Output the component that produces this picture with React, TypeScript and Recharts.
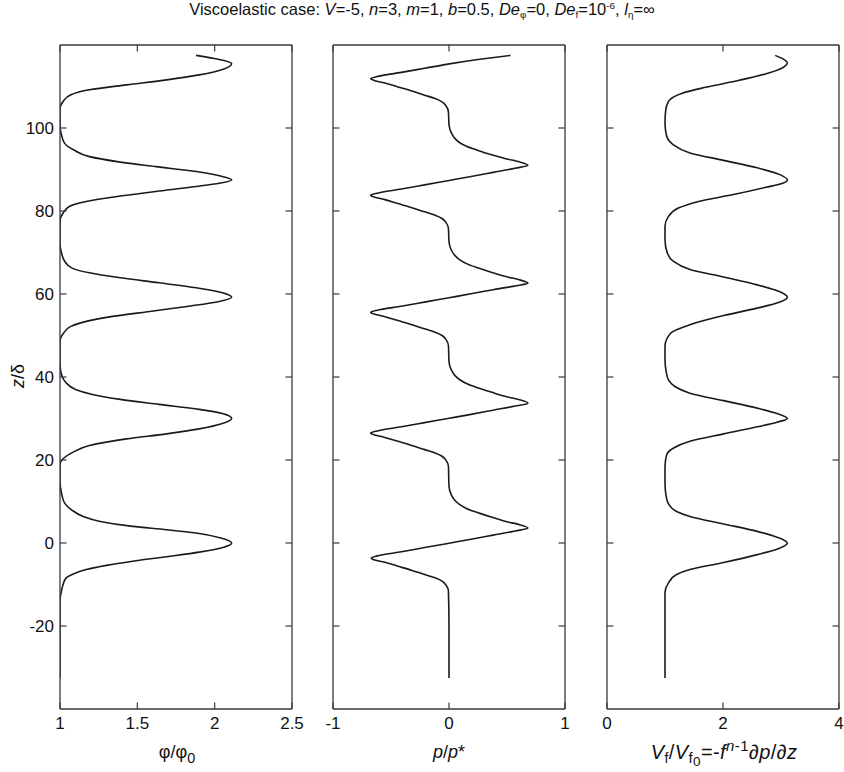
import React from 'react';
import { LineChart, Line, XAxis, YAxis } from 'recharts';

// shared vertical axis (z/δ)
const zDomain = [-40, 120];
const zTicks = [-20, 0, 20, 40, 60, 80, 100];

// panel 1: φ/φ0
const phiTicks = [1, 1.5, 2, 2.5];
const phiZ = [
  -32.5, -20, -14, -11.5, -10, -8.4, -7.4, -6.4, -5.4, -4.4, -3.3, -2.2, -1, 0, 1.2, 2.4, 3.2, 4, 5.2, 6.4, 8, 9.6, 12, 15,
  19, 20.3, 21.9, 23.5, 25.1, 26.3, 27.5, 28.8, 30, 31.2, 32.2, 33.4, 34.6, 35.8, 37, 38.6, 40, 43,
  48.5, 50.6, 52.2, 53.4, 54.6, 55.8, 57, 58.2, 59.2, 60.3, 61.5, 62.7, 63.9, 65.1, 66.3, 67.9, 69.9, 72,
  77.5, 79.5, 81.1, 82.3, 83.5, 84.7, 85.9, 86.7, 87.5, 88.3, 89.5, 90.7, 91.9, 93.1, 94.7, 96.3, 98.3, 100.5,
  104.5, 106.4, 108, 109.2, 110.4, 111.6, 112.8, 114, 115.5, 116.5, 117.5,
];
const phiVals = [
  1, 1, 1, 1.01, 1.02, 1.04, 1.09, 1.17, 1.3, 1.47, 1.69, 1.9, 2.06, 2.11, 2.04, 1.88, 1.69, 1.47, 1.26, 1.15, 1.075, 1.03, 1.01, 1,
  1, 1.02, 1.085, 1.19, 1.43, 1.69, 1.9, 2.05, 2.11, 2.05, 1.9, 1.64, 1.39, 1.21, 1.1, 1.04, 1.015, 1,
  1, 1.024, 1.07, 1.17, 1.34, 1.58, 1.82, 2.03, 2.11, 2.05, 1.88, 1.64, 1.39, 1.19, 1.075, 1.03, 1.01, 1,
  1, 1.02, 1.06, 1.17, 1.37, 1.62, 1.88, 2.03, 2.11, 2.05, 1.88, 1.62, 1.37, 1.19, 1.09, 1.03, 1.01, 1,
  1, 1.02, 1.07, 1.19, 1.43, 1.69, 1.9, 2.04, 2.11, 2.03, 1.88,
];

// panel 2: p/p*
const pTicks = [-1, 0, 1];
const pZ = [
  -32.5, -20, -11.6, -10.2, -9.2, -8.4, -7.6, -6.6, -5.6, -4.6, -4.1, -3.6, -3.1, -2.1, -1.1, -0.1, 0.9, 1.9, 2.9, 3.6,
  4.4, 5.2, 6.2, 7.2, 8.2, 9.3, 10.3, 11.6, 13.6,
  18.5, 19.9, 20.9, 21.7, 22.5, 23.5, 24.5, 25.5, 26, 26.5, 27, 28, 29, 30, 31, 32, 33, 33.7,
  34.5, 35.3, 36.3, 37.3, 38.3, 39.4, 40.4, 41.7, 43.7,
  47.6, 49, 50, 50.8, 51.6, 52.6, 53.6, 54.6, 55.1, 55.6, 56.1, 57.1, 58.1, 59.1, 60.1, 61.1, 62, 62.6,
  63.4, 64.2, 65.2, 66.2, 67.2, 68.3, 69.3, 70.6, 72.6,
  75.8, 77.2, 78.2, 79, 79.8, 80.8, 81.8, 82.8, 83.3, 83.8, 84.3, 85.3, 86.3, 87.3, 88.3, 89.3, 90.3, 91,
  91.8, 92.6, 93.6, 94.6, 95.6, 96.5, 97.5, 98.8, 100.8,
  103.9, 105.3, 106.3, 107.1, 107.9, 108.9, 109.9, 110.9, 111.4, 111.9, 112.4, 113.4, 114.4, 115.4, 116.5, 117.5,
];
const pVals = [
  0, 0, -0.005, -0.025, -0.06, -0.12, -0.21, -0.32, -0.44, -0.56, -0.64, -0.67, -0.62, -0.41, -0.21, -0.01, 0.19, 0.38, 0.57, 0.68,
  0.61, 0.49, 0.37, 0.26, 0.16, 0.09, 0.05, 0.02, 0,
  -0.005, -0.025, -0.06, -0.12, -0.21, -0.32, -0.44, -0.56, -0.64, -0.675, -0.62, -0.41, -0.21, -0.01, 0.19, 0.38, 0.57, 0.68,
  0.61, 0.49, 0.37, 0.26, 0.16, 0.09, 0.05, 0.02, 0,
  -0.005, -0.025, -0.06, -0.12, -0.21, -0.32, -0.44, -0.56, -0.64, -0.675, -0.62, -0.4, -0.2, 0, 0.2, 0.39, 0.58, 0.68,
  0.61, 0.49, 0.37, 0.26, 0.16, 0.09, 0.05, 0.02, 0,
  -0.005, -0.025, -0.06, -0.12, -0.21, -0.32, -0.44, -0.56, -0.64, -0.675, -0.62, -0.41, -0.21, -0.01, 0.19, 0.38, 0.57, 0.68,
  0.61, 0.49, 0.36, 0.25, 0.15, 0.09, 0.05, 0.02, 0,
  -0.005, -0.025, -0.06, -0.12, -0.21, -0.32, -0.44, -0.56, -0.64, -0.675, -0.62, -0.41, -0.21, -0.01, 0.25, 0.53,
];

// panel 3: Vf/Vf0
const vfTicks = [0, 2, 4];
const vfZ = [
  -32.5, -20, -12, -9.6, -7.6, -6.4, -4.7, -2.8, -1.5, 0, 1.4, 2.8, 4.6, 6.4, 7.6, 9.2, 11.2, 14.5,
  18.5, 21.3, 22.9, 24.5, 26.3, 28, 29.1, 30, 31.2, 32.5, 34.3, 36.1, 37.7, 39.3, 41.3, 44.2,
  47.4, 50.6, 52.6, 54.8, 56.6, 58, 59.2, 60.6, 62.2, 64.1, 65.9, 67.9, 69.9, 73.1,
  76.3, 78.7, 80.7, 82.3, 83.9, 85.7, 86.7, 87.5, 88.7, 90.4, 92.2, 94, 96, 98, 101.2,
  104, 106.4, 108.4, 109.8, 111.5, 113.3, 114.8, 115.7, 116.6, 117.5,
];
const vfVals = [
  1, 1, 1, 1.06, 1.2, 1.43, 2.01, 2.59, 2.93, 3.11, 2.93, 2.59, 2.01, 1.43, 1.2, 1.07, 1.02, 1,
  1, 1.03, 1.15, 1.43, 2.01, 2.59, 2.93, 3.11, 2.93, 2.59, 2.01, 1.43, 1.17, 1.06, 1.02, 1,
  1, 1.1, 1.43, 2.01, 2.59, 2.97, 3.11, 2.97, 2.59, 2.01, 1.43, 1.14, 1.04, 1,
  1, 1.06, 1.23, 1.58, 2.16, 2.74, 3.03, 3.11, 2.99, 2.59, 2.01, 1.43, 1.14, 1.03, 1,
  1.01, 1.06, 1.3, 1.7, 2.28, 2.8, 3.06, 3.11, 3.04, 2.9,
];

const FONT = '"Liberation Sans", Arial, Helvetica, sans-serif';
const AXIS = '#3a3a3a';
const INK = '#111';
const TICK = 6.5;
const PLOT_W = 232;
const PLOT_H = 664;
const PLOT_TOP = 45;
const LW = 60;
const RW = 24;
const TH = 10;
const BH = 40;

const BottomTick = (props: any) => {
  const { x, y, payload } = props;
  return (
    <g>
      <line x1={x} y1={y} x2={x} y2={y - TICK} stroke={AXIS} strokeWidth={1.2} />
      <text x={x} y={y + 20} textAnchor="middle" fontSize={17} fontFamily={FONT} fill={INK}>
        {String(payload.value)}
      </text>
    </g>
  );
};

const TopTick = (props: any) => {
  const { x, y } = props;
  return <line x1={x} y1={y} x2={x} y2={y + TICK} stroke={AXIS} strokeWidth={1.2} />;
};

const makeLeftTick = (showLabel: boolean) => (props: any) => {
  const { x, y, payload } = props;
  return (
    <g>
      <line x1={x} y1={y} x2={x + TICK} y2={y} stroke={AXIS} strokeWidth={1.2} />
      {showLabel && (
        <text x={x - 6} y={y + 6} textAnchor="end" fontSize={17} fontFamily={FONT} fill={INK}>
          {String(payload.value)}
        </text>
      )}
    </g>
  );
};

const RightTick = (props: any) => {
  const { x, y } = props;
  return <line x1={x} y1={y} x2={x - TICK} y2={y} stroke={AXIS} strokeWidth={1.2} />;
};

interface PanelProps {
  plotLeft: number;
  z: number[];
  vals: number[];
  xDomain: number[];
  xTicks: number[];
  yLabels: boolean;
}

const Panel: React.FC<PanelProps> = ({ plotLeft, z, vals, xDomain, xTicks, yLabels }) => {
  const data = z.map((zz, i) => ({ z: zz, v: vals[i] }));
  const axisLine = { stroke: AXIS, strokeWidth: 1.3 };
  return (
    <div style={{ position: 'absolute', left: plotLeft - LW, top: PLOT_TOP - TH }}>
      <LineChart
        layout="vertical"
        width={LW + PLOT_W + RW}
        height={TH + PLOT_H + BH}
        data={data}
        margin={{ top: 0, right: 0, bottom: 0, left: 0 }}
      >
        <XAxis
          xAxisId="b"
          type="number"
          dataKey="v"
          orientation="bottom"
          domain={xDomain}
          ticks={xTicks}
          allowDataOverflow
          interval={0}
          height={BH}
          tickSize={0}
          tickMargin={0}
          tickLine={false}
          axisLine={axisLine}
          tick={BottomTick}
        />
        <XAxis
          xAxisId="t"
          type="number"
          dataKey="v"
          orientation="top"
          domain={xDomain}
          ticks={xTicks}
          allowDataOverflow
          interval={0}
          height={TH}
          tickSize={0}
          tickMargin={0}
          tickLine={false}
          axisLine={axisLine}
          tick={TopTick}
        />
        <YAxis
          yAxisId="l"
          type="number"
          dataKey="z"
          reversed
          domain={zDomain}
          ticks={zTicks}
          allowDataOverflow
          interval={0}
          width={LW}
          tickSize={0}
          tickMargin={0}
          tickLine={false}
          axisLine={axisLine}
          tick={makeLeftTick(yLabels)}
        />
        <YAxis
          yAxisId="r"
          type="number"
          dataKey="z"
          orientation="right"
          reversed
          domain={zDomain}
          ticks={zTicks}
          allowDataOverflow
          interval={0}
          width={RW}
          tickSize={0}
          tickMargin={0}
          tickLine={false}
          axisLine={axisLine}
          tick={RightTick}
        />
        <Line
          xAxisId="b"
          yAxisId="l"
          dataKey="v"
          type="monotone"
          stroke="#1a1a1a"
          strokeWidth={1.6}
          dot={false}
          activeDot={false}
          isAnimationActive={false}
        />
      </LineChart>
    </div>
  );
};

const sub = (t: React.ReactNode, size = '0.62em', drop = 4) => (
  <span style={{ fontSize: size, position: 'relative', top: drop }}>{t}</span>
);
const sup = (t: React.ReactNode, size = '0.62em', lift = -7) => (
  <span style={{ fontSize: size, position: 'relative', top: lift }}>{t}</span>
);

const labelStyle = (cx: number, top: number, size = 17): React.CSSProperties => ({
  position: 'absolute',
  left: cx - 150,
  top,
  width: 300,
  textAlign: 'center',
  fontSize: size,
  lineHeight: '20px',
  fontFamily: FONT,
  color: INK,
  whiteSpace: 'nowrap',
});

export default function App() {
  return (
    <div
      style={{
        position: 'absolute',
        left: 0,
        top: 0,
        width: 844,
        height: 772,
        background: '#fff',
        overflow: 'hidden',
        fontFamily: FONT,
      }}
    >
      <div
        style={{
          position: 'absolute',
          left: 0,
          top: 0,
          width: 844,
          textAlign: 'center',
          fontSize: 16.5,
          lineHeight: '18px',
          color: INK,
          whiteSpace: 'nowrap',
        }}
      >
        Viscoelastic case: <i>V</i>=-5, <i>n</i>=3, <i>m</i>=1, <i>b</i>=0.5, <i>De</i>
        {sub('φ', '0.6em', 3)}=0, <i>De</i>
        {sub('f', '0.6em', 3)}=10{sup('-6', '0.6em', -6)}, <i>l</i>
        {sub('η', '0.6em', 3)}=∞
      </div>

      <Panel plotLeft={60.3} z={phiZ} vals={phiVals} xDomain={[1, 2.5]} xTicks={phiTicks} yLabels />
      <Panel plotLeft={333.3} z={pZ} vals={pVals} xDomain={[-1, 1]} xTicks={pTicks} yLabels={false} />
      <Panel plotLeft={607.3} z={vfZ} vals={vfVals} xDomain={[0, 4]} xTicks={vfTicks} yLabels={false} />

      <div style={labelStyle(177, 742, 18)}>
        φ/φ{sub('0', '0.8em', 5)}
      </div>
      <div style={labelStyle(449, 742, 18)}>
        <i>p</i>/<i>p</i>*
      </div>
      <div style={{ ...labelStyle(724, 742, 20), letterSpacing: 0.4 }}>
        <i>V</i>
        {sub('f', '0.7em', 4)}/<i>V</i>
        {sub(
          <>
            f{sub('0', '0.9em', 3)}
          </>,
          '0.75em',
          4
        )}
        =-<i>f</i>
        {sup(<i>n</i>, '0.75em', -8)}
        {sup('-1', '0.75em', -8)}∂<i>p</i>/∂<i>z</i>
      </div>
      <div
        style={{
          ...labelStyle(18, 366, 18),
          transform: 'rotate(-90deg)',
          left: 18 - 50,
          width: 100,
        }}
      >
        <i>z</i>/δ
      </div>
    </div>
  );
}
